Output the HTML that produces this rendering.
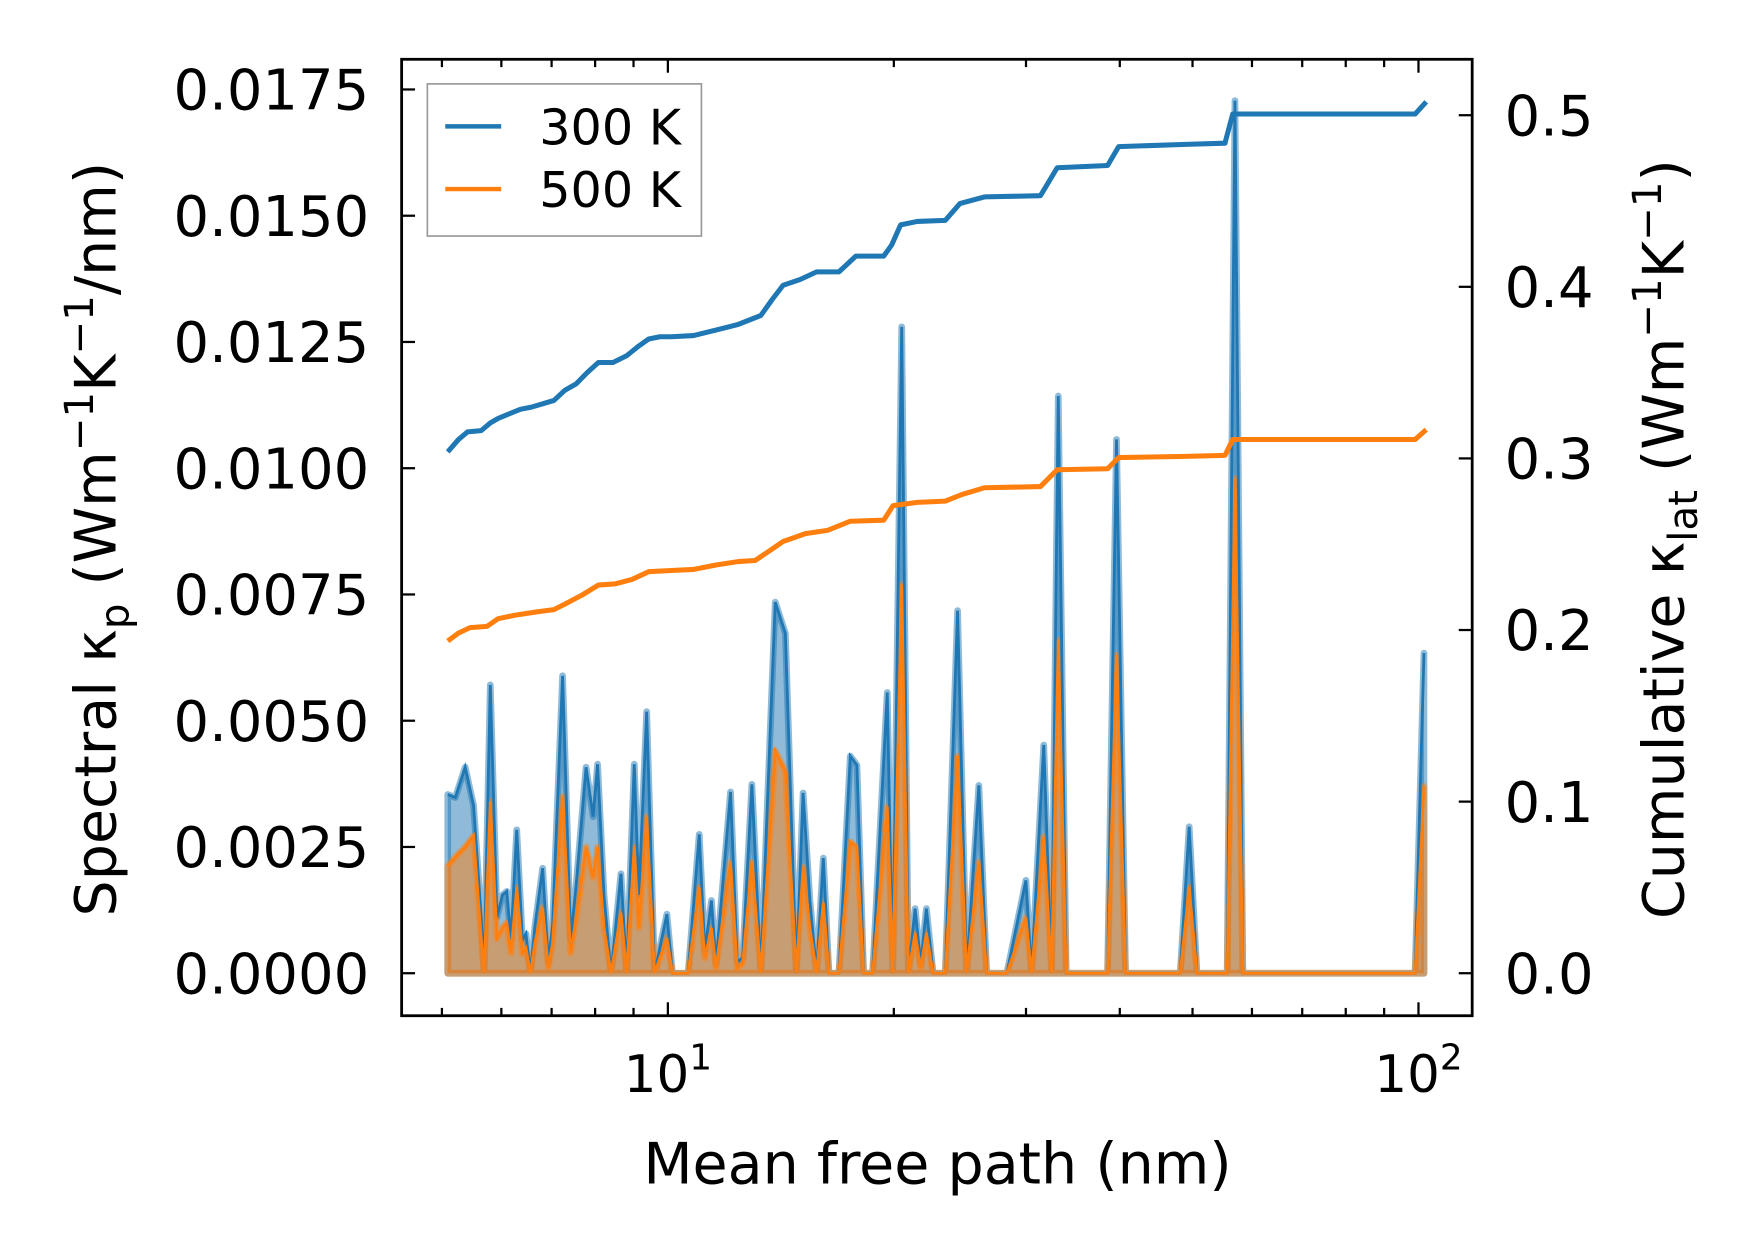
<!DOCTYPE html>
<html><head><meta charset="utf-8"><style>
html,body{margin:0;padding:0;background:#fff}
svg{display:block}
text{font-family:"DejaVu Sans","Liberation Sans",sans-serif;fill:#000}
</style></head><body>
<svg id="chart" width="1753" height="1254" viewBox="0 0 1567 1121" xmlns="http://www.w3.org/2000/svg">
<g id="plot"></g>
<g id="axes"></g>
<g>
<rect x="382" y="75" width="245" height="136" fill="#fff" fill-opacity="0.8" stroke="#999" stroke-width="1.5"/>
<line x1="398" y1="113" x2="448" y2="113" stroke="#1f77b4" stroke-width="4"/>
<text x="482" y="129" font-size="44">300 K</text>
<line x1="398" y1="169" x2="448" y2="169" stroke="#ff7f0e" stroke-width="4"/>
<text x="482" y="185" font-size="44">500 K</text>
</g>
<text x="838" y="1058" font-size="51" text-anchor="middle">Mean free path (nm)</text>
<text transform="translate(103,482) rotate(-90)" font-size="51" text-anchor="middle">Spectral κ<tspan font-size="36" dy="12">p</tspan><tspan dy="-12"> (Wm</tspan><tspan font-size="36" dy="-20">−1</tspan><tspan dy="20">K</tspan><tspan font-size="36" dy="-20">−1</tspan><tspan dy="20">/nm)</tspan></text>
<text transform="translate(1505,482) rotate(-90)" font-size="51" text-anchor="middle">Cumulative κ<tspan font-size="36" dy="12">lat</tspan><tspan dy="-12"> (Wm</tspan><tspan font-size="36" dy="-20">−1</tspan><tspan dy="20">K</tspan><tspan font-size="36" dy="-20">−1</tspan><tspan dy="20">)</tspan></text>
</svg>
<script>
const mfp = [5.09,5.21,5.37,5.51,5.64,5.69,5.80,5.92,6.02,6.10,
6.18,6.29,6.40,6.47,6.56,6.65,6.81,6.93,7.02,7.24,
7.42,7.55,7.78,7.95,8.06,8.22,8.40,8.66,8.81,9.02,
9.15,9.37,9.60,9.97,10.14,10.64,11.01,11.20,11.43,11.59,
12.12,12.37,12.58,12.94,13.30,13.90,14.34,14.83,15.14,15.46,
15.78,16.11,16.39,16.90,17.50,17.86,18.23,18.74,19.60,19.93,
20.49,20.91,21.35,21.72,22.10,22.56,23.42,24.32,25.00,25.96,
26.59,28.29,29.99,30.51,31.68,32.45,33.12,33.93,38.53,39.60,
40.71,48.15,49.49,50.68,55.61,56.95,58.34,98.97,101.7];
const spec300 = [0.00354,0.00348,0.00408,0.00332,0.00111,0,0.00571,0.00111,0.00155,0.00162,
0.00066,0.00284,0.00066,0.00078,0,0.00093,0.00208,0.00022,0.00093,0.00589,
0.00066,0.00177,0.00408,0.0031,0.00414,0.00155,0,0.00197,0,0.00414,
0.00155,0.00518,0,0.00117,0,0,0.00275,0.00044,0.00144,0.00018,
0.00359,0.00022,0.00031,0.00374,0,0.00735,0.00673,0,0.00357,0.00144,
0,0.00228,0,0,0.0043,0.00412,0,0,0.00556,0,
0.0128,0,0.00128,0.00018,0.00128,0,0,0.00718,0,0.00372,
0,0,0.00184,0,0.00452,0,0.01143,0,0,0.01057,
0,0,0.0029,0,0,0.01728,0,0,0.00634];
const spec500 = [0.00212,0.0023,0.0025,0.00272,0.0007,0,0.0034,0.0007,0.0009,0.001,
0.0004,0.0017,0.0004,0.0005,0,0.0006,0.0013,0.0001,0.0006,0.0035,
0.0004,0.0011,0.0025,0.0019,0.0025,0.0009,0,0.0012,0,0.0025,
0.0009,0.0031,0,0.0007,0,0,0.0017,0.0003,0.0009,0.0001,
0.0022,0.0001,0.0002,0.0022,0,0.0044,0.0040,0,0.0021,0.0009,
0,0.0014,0,0,0.0026,0.0025,0,0,0.0033,0,
0.0077,0,0.0008,0.0001,0.0008,0,0,0.0043,0,0.0022,
0,0,0.0011,0,0.0027,0,0.0066,0,0,0.0063,
0,0,0.0017,0,0,0.0098,0,0,0.0037];
const cumMfp300 = [5.09,5.26,5.41,5.64,5.80,5.94,6.14,6.36,6.58,6.81,7.05,7.29,7.55,7.81,8.08,8.45,8.81,9.12,9.43,9.76,10.10,10.82,11.59,12.41,13.30,13.76,14.24,14.99,15.78,16.90,17.80,19.39,19.87,20.42,21.49,23.42,24.49,26.41,31.36,33.01,38.53,39.86,48.98,55.23,56.56,98.97,102.4];
const cum300 = [0.3038,0.311,0.3155,0.3162,0.3207,0.3233,0.3259,0.3286,0.3299,0.3318,0.3338,0.3397,0.3435,0.3501,0.3559,0.3559,0.3598,0.3651,0.3696,0.3709,0.3709,0.3716,0.3748,0.3781,0.3833,0.3924,0.4009,0.4042,0.4087,0.4087,0.4179,0.4179,0.4244,0.4361,0.4381,0.4387,0.4485,0.4524,0.4531,0.4694,0.4707,0.4817,0.483,0.4837,0.5007,0.5007,0.5078];
const cumMfp500 = [5.09,5.26,5.45,5.74,5.94,6.25,6.69,7.05,7.29,7.68,8.08,8.51,8.96,9.43,10.10,10.82,11.59,12.41,13.07,13.76,14.24,15.25,16.33,17.50,19.39,19.95,21.49,23.42,24.66,26.41,31.36,33.01,38.53,39.86,48.98,55.23,56.56,98.97,102.4];
const cum500 = [0.1936,0.1982,0.2014,0.2021,0.2066,0.2086,0.2106,0.2119,0.2151,0.2203,0.2262,0.2269,0.2295,0.234,0.2347,0.2353,0.2379,0.2399,0.2405,0.2471,0.2516,0.2562,0.2581,0.2634,0.264,0.2725,0.2744,0.2751,0.279,0.2829,0.2836,0.2934,0.294,0.3005,0.3012,0.3018,0.311,0.311,0.3168];
const leftTicks = [0,0.0025,0.005,0.0075,0.01,0.0125,0.015,0.0175];
const leftTickLabels = ["0.0000","0.0025","0.0050","0.0075","0.0100","0.0125","0.0150","0.0175"];
const rightTicks = [0,0.1,0.2,0.3,0.4,0.5];
const rightTickLabels = ["0.0","0.1","0.2","0.3","0.4","0.5"];

const NS="http://www.w3.org/2000/svg";
const L=359,R=1316,T=53,B=908;
const xS=v=>597+671*(Math.log10(v)-1);
const yL=v=>870-v*(112.86/0.0025);
const yR=v=>870-v*1534;
const plot=document.getElementById('plot'), axes=document.getElementById('axes');
function mk(tag,attrs,parent){const e=document.createElementNS(NS,tag);for(const k in attrs)e.setAttribute(k,attrs[k]);parent.appendChild(e);return e;}
function areaPath(xs,ys){let d='M'+xS(xs[0])+','+yL(0);xs.forEach((x,i)=>d+='L'+xS(x)+','+yL(ys[i]));d+='L'+xS(xs[xs.length-1])+','+yL(0)+'Z';return d;}
function linePath(xs,ys,f){return xs.map((x,i)=>(i?'L':'M')+xS(x)+','+f(ys[i])).join('');}

const a3=mk('path',{d:areaPath(mfp,spec300),fill:'#1f77b4','fill-opacity':0.5,stroke:'#1f77b4','stroke-opacity':0.5,'stroke-width':6,'stroke-linejoin':'round'},plot);


const a5=mk('path',{d:areaPath(mfp,spec500),fill:'#ff7f0e','fill-opacity':0.5,stroke:'#ff7f0e','stroke-opacity':0.5,'stroke-width':6,'stroke-linejoin':'round'},plot);


const l3=mk('path',{d:linePath(mfp,spec300,yL),fill:'none',stroke:'#1f77b4','stroke-width':2.5},plot);


const l5=mk('path',{d:linePath(mfp,spec500,yL),fill:'none',stroke:'#ff7f0e','stroke-width':2.5},plot);


const c3=mk('path',{d:linePath(cumMfp300,cum300,yR),fill:'none',stroke:'#1f77b4','stroke-width':4.5,'stroke-linejoin':'round'},plot);


const c5=mk('path',{d:linePath(cumMfp500,cum500,yR),fill:'none',stroke:'#ff7f0e','stroke-width':4.5,'stroke-linejoin':'round'},plot);



const fr=mk('rect',{x:L,y:T,width:R-L,height:B-T,fill:'none',stroke:'#000','stroke-width':2.5},axes);


const minors=[5,6,7,8,9,20,30,40,50,60,70,80,90];
minors.forEach(v=>{const x=xS(v);
 mk('line',{x1:x,x2:x,y1:B,y2:B-7,stroke:'#000','stroke-width':2},axes);
 mk('line',{x1:x,x2:x,y1:T,y2:T+7,stroke:'#000','stroke-width':2},axes);});
[10,100].forEach((v,i)=>{const x=xS(v);
 mk('line',{x1:x,x2:x,y1:B,y2:B-12,stroke:'#000','stroke-width':2},axes);
 mk('line',{x1:x,x2:x,y1:T,y2:T+12,stroke:'#000','stroke-width':2},axes);
 const t=mk('text',{x:x,y:976,'font-size':46,'text-anchor':'middle'},axes);
 
 
 t.innerHTML='10<tspan font-size="32" dy="-20">'+(i+1)+'</tspan>';});
leftTicks.forEach((v,i)=>{const y=yL(v);
 mk('line',{x1:L,x2:L+12,y1:y,y2:y,stroke:'#000','stroke-width':2},axes);
 const t=mk('text',{x:330,y:y+18,'font-size':50,'text-anchor':'end'},axes);
 
 
 t.textContent=leftTickLabels[i];});
rightTicks.forEach((v,i)=>{const y=yR(v);
 mk('line',{x1:R,x2:R-12,y1:y,y2:y,stroke:'#000','stroke-width':2},axes);
 const t=mk('text',{x:1345,y:y+18,'font-size':50,'text-anchor':'start'},axes);
 
 
 t.textContent=rightTickLabels[i];});
</script>
</body></html>
